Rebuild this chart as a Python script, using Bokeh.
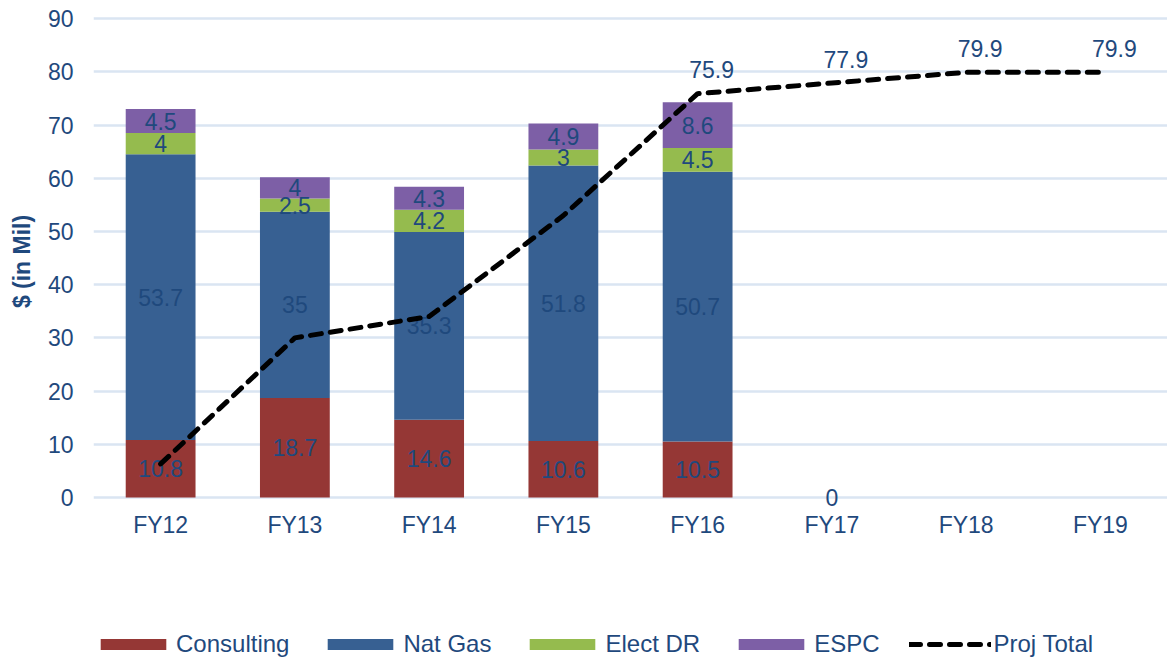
from bokeh.plotting import figure
from bokeh.layouts import column
from bokeh.models import (ColumnDataSource, FactorRange, Range1d, FixedTicker, Legend,
                          LegendItem)
from bokeh.embed import file_html
from bokeh.resources import INLINE
from bokeh.core.properties import value

# ---- data ----
years = ["FY12", "FY13", "FY14", "FY15", "FY16", "FY17", "FY18", "FY19"]
consulting = [10.8, 18.7, 14.6, 10.6, 10.5, 0, None, None]
nat_gas = [53.7, 35, 35.3, 51.8, 50.7, None, None, None]
elect_dr = [4, 2.5, 4.2, 3, 4.5, None, None, None]
espc = [4.5, 4, 4.3, 4.9, 8.6, None, None, None]
proj_total = [6.3, 30, 34, 53, 75.9, 77.9, 79.9, 79.9]
proj_label_shown = [False, False, False, False, True, True, True, True]
y_ticks = [0, 10, 20, 30, 40, 50, 60, 70, 80, 90]

series_names = ["Consulting", "Nat Gas", "Elect DR", "ESPC"]
series_keys = ["consulting", "nat_gas", "elect_dr", "espc"]
series_vals = [consulting, nat_gas, elect_dr, espc]
colors = ["#953735", "#376092", "#95BB4E", "#7D5FA6"]
line_style = dict(line_color="black", line_width=5, line_dash="11 9", line_cap="round")

TEXT = "#1F497D"
FONT = "Liberation Sans"
FS = "23px"
W = 1167

bar_data = {"x": years[:5]}
for k, v in zip(series_keys, series_vals):
    bar_data[k] = [0 if a is None else a for a in v[:5]]
bar_src = ColumnDataSource(bar_data)

p = figure(x_range=FactorRange(*years), y_range=Range1d(-1.7, 90.4),
           width=W, height=556, output_backend="svg", toolbar_location=None,
           min_border_left=93, min_border_right=0, min_border_top=16, min_border_bottom=50)
p.outline_line_color = None
p.background_fill_color = "white"

# grid
p.xgrid.grid_line_color = None
p.ygrid.grid_line_color = "#DAE5F2"
p.ygrid.grid_line_width = 2.5
p.yaxis.ticker = FixedTicker(ticks=y_ticks)

for ax in (p.xaxis, p.yaxis):
    ax.axis_line_color = None
    ax.major_tick_line_color = None
    ax.minor_tick_line_color = None
    ax.major_tick_out = 0
    ax.minor_tick_out = 0
    ax.major_label_text_color = TEXT
    ax.major_label_text_font = FONT
    ax.major_label_text_font_size = FS
p.yaxis.major_label_standoff = 20
p.xaxis.major_label_standoff = 5
p.yaxis.axis_label = "$ (in Mil)"
p.yaxis.axis_label_text_font = FONT
p.yaxis.axis_label_text_font_size = FS
p.yaxis.axis_label_text_font_style = "bold"
p.yaxis.axis_label_text_color = TEXT
p.yaxis.axis_label_standoff = 10

# stacked bars
rs = p.vbar_stack(series_keys, x="x", width=0.52, source=bar_src,
                  color=colors, line_color=None)

# segment labels
lx, ly, lt = [], [], []
for i, yr in enumerate(years):
    base = 0.0
    for vals in series_vals:
        v = vals[i]
        if v is None:
            continue
        lx.append(yr)
        ly.append(base + v / 2.0)
        lt.append(f"{v:g}")
        base += v
p.text(x=lx, y=ly, text=lt, text_align="center", text_baseline="middle",
       text_color=TEXT, text_font=value(FONT), text_font_size=FS)

# projected total line
p.line(x=years, y=proj_total, **line_style)
px = [y for y, s in zip(years, proj_label_shown) if s]
py = [v for v, s in zip(proj_total, proj_label_shown) if s]
pt = [f"{v:g}" for v, s in zip(proj_total, proj_label_shown) if s]
p.text(x=px, y=py, text=pt, text_align="center", text_baseline="middle",
       x_offset=14, y_offset=-24,
       text_color=TEXT, text_font=value(FONT), text_font_size=FS)

# ---- legend strip (separate figure below the chart) ----
lg = figure(width=W, height=102, output_backend="svg", toolbar_location=None,
            x_range=Range1d(0, 1), y_range=Range1d(0, 1),
            x_axis_location=None, y_axis_location=None,
            min_border_left=0, min_border_right=0, min_border_top=0, min_border_bottom=0)
lg.grid.grid_line_color = None
lg.outline_line_color = None
# legend-only renderers, placed outside the visible range
lrs = [lg.vbar(x=[10], top=[1], width=0.5, color=c, line_color=None) for c in colors]
lrs.append(lg.line(x=[10, 11], y=[0.5, 0.5], **line_style))
items = [LegendItem(label=n, renderers=[r]) for n, r in zip(series_names + ["Proj Total"], lrs)]
legend = Legend(items=items, orientation="horizontal", location=(-1, 0),
                glyph_width=82, glyph_height=14, label_standoff=2, spacing=30,
                padding=0, margin=0, border_line_color=None, background_fill_alpha=0,
                label_text_font=FONT, label_text_font_size="24px", label_text_color=TEXT)
lg.add_layout(legend, "center")

layout = column(p, lg, spacing=0)
open("out.html", "w").write(file_html(layout, INLINE))
